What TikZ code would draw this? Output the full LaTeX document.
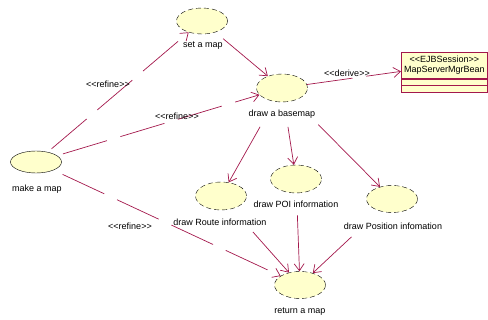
\documentclass[tikz,border=0pt]{standalone}
\usepackage{fontspec}
\setmainfont{Liberation Sans}
\usetikzlibrary{arrows.meta,positioning,shapes.geometric}
\definecolor{umlred}{RGB}{163,24,76}
\definecolor{ucfill}{RGB}{255,255,204}

\begin{document}
\begin{tikzpicture}[x=1pt, y=-1pt,
    usecase/.style={ellipse, draw, dash pattern=on 5pt off 3pt, fill=ucfill,
        minimum width=51pt, minimum height=27pt, inner sep=0pt},
    uclabel/.style={font=\fontsize{9}{10}\selectfont, inner sep=1pt},
    classbox/.style={draw=umlred, fill=ucfill, line width=0.7pt, minimum width=86pt,
        inner sep=1pt, font=\fontsize{9}{10.5}\selectfont, align=center},
    flow/.style={umlred, line width=0.7pt, -{Straight Barb[length=7pt,width=10pt]}},
    refine/.style={flow, dash pattern=on 46pt off 14pt}]
    \useasboundingbox (0,0) rectangle (488,320);

    % Use cases
    \node[usecase, solid, minimum height=22pt] (make) at (36,162) {};
    \node[uclabel] (makelbl) at (37,189) {make a map};
    \node[usecase, minimum height=26pt] (set) at (202,21) {};
    \node[uclabel] (setlbl) at (203,46) {set a map};
    \node[usecase, minimum height=28pt] (basemap) at (282,88) {};
    \node[uclabel] (basemaplbl) at (282,114) {draw a basemap};
    \node[usecase, minimum height=28pt] (route) at (221,196) {};
    \node[uclabel] (routelbl) at (220,222) {draw Route information};
    \node[usecase, minimum height=28pt] (poi) at (296,179) {};
    \node[uclabel] (poilbl) at (296,204) {draw POI information};
    \node[usecase] (position) at (392,199) {};
    \node[uclabel] (positionlbl) at (393,226) {draw Position infomation};
    \node[usecase] (return) at (300,285) {};
    \node[uclabel] (returnlbl) at (300,312) {return a map};

    % Session bean
    \node[classbox, anchor=north west, minimum height=26pt] (bean) at (401,52)
        {{<}{<}EJBSession{>}{>}\\MapServerMgrBean};
    \node[classbox, minimum height=6pt, below=0pt of bean] (beanattr) {};
    \node[classbox, minimum height=7pt, below=0pt of beanattr] (beanops) {};

    % Refinements from make a map
    \draw[refine, shorten <=5pt] (make) -- (set);
    \draw[refine, shorten <=6pt] (make) -- (basemap);
    \draw[refine, shorten <=10pt] (make) -- (return);
    \node[uclabel] (refine1) at (108,84) {{<}{<}refine{>}{>}};
    \node[uclabel] (refine2) at (177,116) {{<}{<}refine{>}{>}};
    \node[uclabel] (refine3) at (130,226) {{<}{<}refine{>}{>}};

    % Derive
    \draw[refine] (basemap) -- (bean);
    \node[uclabel] (derive) at (347,73) {{<}{<}derive{>}{>}};

    % Includes
    \draw[flow, shorten <=10pt] (set) -- (basemap);
    \draw[flow, shorten <=29pt] (basemap) -- (route);
    \draw[flow, shorten <=25pt] (basemap) -- (poi);
    \draw[flow, shorten <=34pt] (basemap) -- (position);
    \draw[flow, shorten <=31pt] (route) -- (return);
    \draw[flow, shorten <=22pt] (poi) -- (return);
    \draw[flow, shorten <=38pt] (position) -- (return);
\end{tikzpicture}
\end{document}
